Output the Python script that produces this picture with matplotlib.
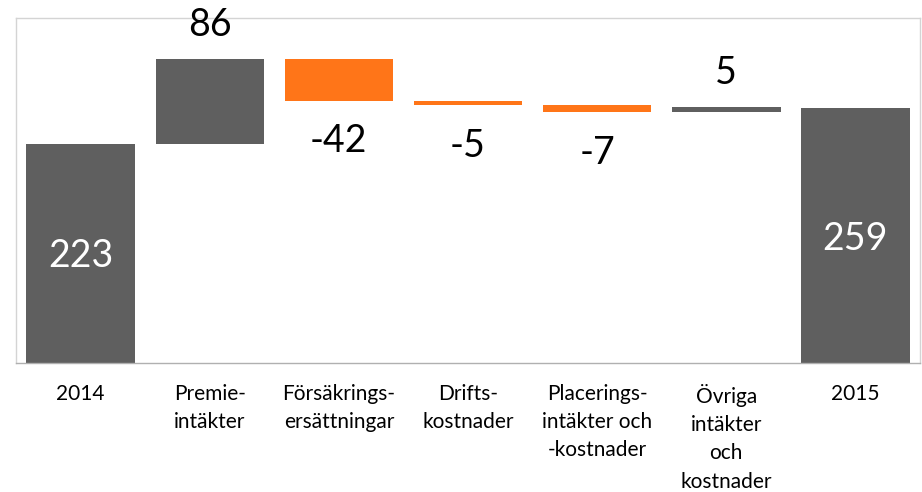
import numpy as np
import matplotlib.pyplot as plt

# Waterfall: result 2014 -> 2015
categories = ['2014', 'Premie-\nintäkter', 'Försäkrings-\nersättningar', 'Drifts-\nkostnader',
              'Placerings-\nintäkter och\n-kostnader', 'Övriga\nintäkter\noch\nkostnader', '2015']
values = [223, 86, -42, -5, -7, 5, 259]
is_total = [True, False, False, False, False, False, True]

GRAY = '#5f5f5f'
ORANGE = '#ff7518'

plt.rcParams['font.family'] = ['Lato', 'DejaVu Sans']

fig = plt.figure(figsize=(9.22, 4.92), dpi=100)
ax = fig.add_axes([0.0174, 0.2622, 0.9804, 0.7012])

x = np.arange(len(categories))
bottoms = []
heights = []
running = 0
for v, tot in zip(values, is_total):
    if tot:
        bottoms.append(0)
        heights.append(v)
        running = v
    else:
        bottoms.append(running)
        heights.append(v)
        running += v

colors = [ORANGE if (v < 0 and not t) else GRAY for v, t in zip(values, is_total)]
ax.bar(x, heights, bottom=bottoms, width=0.84, color=colors, zorder=2)

# value labels
for xi, b, h, v, t in zip(x, bottoms, heights, values, is_total):
    if t:
        ax.text(xi, b + h / 2 - 3, str(v), ha='center', va='center',
                color='white', fontsize=27, zorder=3)
    elif v > 0:
        ax.annotate(str(v), (xi, b + h), xytext=(0, 25), textcoords='offset points',
                    ha='center', va='center', fontsize=27, annotation_clip=False)
    else:
        ax.annotate(str(v), (xi, b + h), xytext=(0, -29), textcoords='offset points',
                    ha='center', va='center', fontsize=27, annotation_clip=False)

ax.set_xlim(-0.5, 6.5)
ax.set_ylim(0, 351)
ax.set_xticks(x)
ax.set_xticklabels(categories, fontsize=15, linespacing=1.52, va='top')
ax.tick_params(axis='x', length=0, pad=15)
ax.set_yticks([])
for s in ax.spines.values():
    s.set_color('#d4d4d4')
    s.set_linewidth(1)
ax.spines['bottom'].set_color('#b0b0b0')

fig.savefig('out.png', dpi=100)
